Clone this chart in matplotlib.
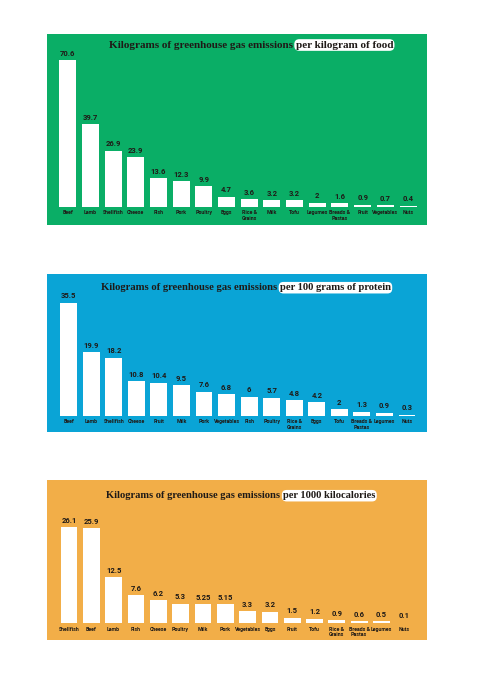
import matplotlib
matplotlib.use('Agg')
import matplotlib.pyplot as plt
from matplotlib.patches import Rectangle

# ---------------- data ----------------
food_cats = ["Beef", "Lamb", "Shellfish", "Cheese", "Fish", "Pork", "Poultry", "Eggs",
             "Rice &\nGrains", "Milk", "Tofu", "Legumes", "Breads &\nPastas", "Fruit",
             "Vegetables", "Nuts"]
food_vals = [70.6, 39.7, 26.9, 23.9, 13.6, 12.3, 9.9, 4.7, 3.6, 3.2, 3.2, 2, 1.6, 0.9, 0.7, 0.4]

protein_cats = ["Beef", "Lamb", "Shellfish", "Cheese", "Fruit", "Milk", "Pork", "Vegetables",
                "Fish", "Poultry", "Rice &\nGrains", "Eggs", "Tofu", "Breads &\nPastas",
                "Legumes", "Nuts"]
protein_vals = [35.5, 19.9, 18.2, 10.8, 10.4, 9.5, 7.6, 6.8, 6, 5.7, 4.8, 4.2, 2, 1.3, 0.9, 0.3]

kcal_cats = ["Shellfish", "Beef", "Lamb", "Fish", "Cheese", "Poultry", "Milk", "Pork",
             "Vegetables", "Eggs", "Fruit", "Tofu", "Rice &\nGrains", "Breads &\nPastas",
             "Legumes", "Nuts"]
kcal_vals = [26.1, 25.9, 12.5, 7.6, 6.2, 5.3, 5.25, 5.15, 3.3, 3.2, 1.5, 1.2, 0.9, 0.6, 0.5, 0.1]

title_main = "Kilograms of greenhouse gas emissions "
food_title_hl = "per kilogram of food"
protein_title_hl = "per 100 grams of protein"
kcal_title_hl = "per 1000 kilocalories"

# ---------------- layout (pixels) ----------------
W, H = 493, 680
fig = plt.figure(figsize=(W / 100, H / 100), dpi=100)
fig.patch.set_facecolor('white')

panels = [
    dict(cats=food_cats, vals=food_vals, hl=food_title_hl, color='#0AAE66',
         box=(47, 34, 427, 225), axl=56.3, axr=419.4, base=206.7, top=60.0,
         title_cx=251, title_y=45, title_w=288),
    dict(cats=protein_cats, vals=protein_vals, hl=protein_title_hl, color='#0AA4D6',
         box=(47, 274, 427, 432), axl=57.4, axr=418.3, base=415.7, top=302.7,
         title_cx=246, title_y=287.7, title_w=292),
    dict(cats=kcal_cats, vals=kcal_vals, hl=kcal_title_hl, color='#F2AE48',
         box=(47, 480, 427, 640), axl=57.8, axr=415.0, base=623.3, top=527.3,
         title_cx=241, title_y=495.7, title_w=271),
]

dark = '#1f1a17'
title_family = 'Liberation Serif'

def fx(px):
    return px / W

def fy(py):
    return 1 - py / H

for p in panels:
    x0, y0, x1, y1 = p['box']
    fig.patches.append(Rectangle((fx(x0), fy(y1)), fx(x1) - fx(x0), fy(y0) - fy(y1),
                                 transform=fig.transFigure, facecolor=p['color'],
                                 edgecolor='none', zorder=-5))
    ax = fig.add_axes([fx(p['axl']), fy(p['base']), fx(p['axr']) - fx(p['axl']),
                       fy(p['top']) - fy(p['base'])])
    ax.set_zorder(2)
    ax.set_facecolor('none')
    n = len(p['vals'])
    xs = list(range(n))
    ax.bar(xs, p['vals'], width=0.75, color='white', edgecolor='none')
    ax.set_xlim(-0.5, n - 0.5)
    ax.set_ylim(0, max(p['vals']))
    for x, v in zip(xs, p['vals']):
        ax.annotate(f"{v:g}", (x, v), xytext=(0, 2.5), textcoords='offset points',
                    ha='center', va='bottom', fontsize=5.5, fontweight='bold',
                    family='Roboto', color=dark, annotation_clip=False)
    ax.set_xticks(xs)
    ax.set_xticklabels(p['cats'], fontsize=3.8, fontweight='bold', family='Roboto',
                       color=dark, linespacing=1.1)
    ax.tick_params(axis='x', length=0, pad=2.5)
    ax.set_yticks([])
    for s in ax.spines.values():
        s.set_visible(False)

# titles with highlighted part, sized to the reference width
fig.canvas.draw()
r = fig.canvas.get_renderer()
for p in panels:
    t1 = fig.text(0, fy(p['title_y']), title_main, ha='left', va='center',
                  fontsize=10, fontweight='bold', family=title_family, color=dark, zorder=5)
    t2 = fig.text(0, fy(p['title_y']), p['hl'], ha='left', va='center',
                  fontsize=10, fontweight='bold', family=title_family, color=dark, zorder=5)
    w = t1.get_window_extent(r).width + t2.get_window_extent(r).width
    fs = 10 * p['title_w'] / w
    t1.set_fontsize(fs)
    t2.set_fontsize(fs)
    t2.set_bbox(dict(boxstyle='round,pad=0.12,rounding_size=0.45', fc='white', ec='none'))
    w1 = t1.get_window_extent(r).width
    w2 = t2.get_window_extent(r).width
    start = p['title_cx'] - (w1 + w2) / 2
    t1.set_x(fx(start))
    t2.set_x(fx(start + w1))

fig.savefig('out.png', dpi=100, facecolor='white')
